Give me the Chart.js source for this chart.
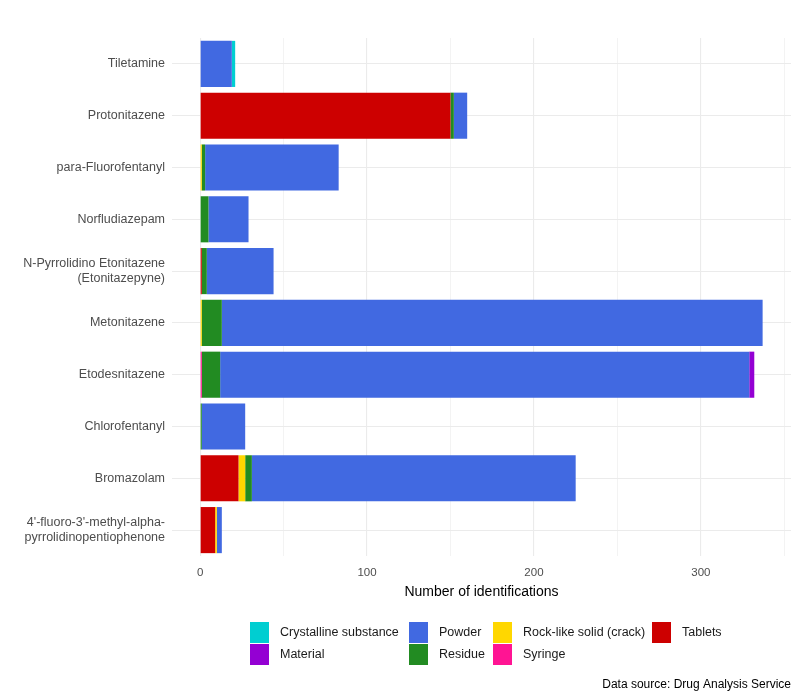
<!DOCTYPE html>
<html>
<head>
<meta charset="utf-8">
<script src="https://cdn.jsdelivr.net/npm/chart.js@4/dist/chart.umd.min.js"></script>
<style>
  html, body { margin: 0; padding: 0; background: #fff; }
  #wrap { width: 800px; height: 700px; }
</style>
</head>
<body>
<div id="wrap"><canvas id="chart" width="800" height="700"></canvas></div>
<script>
// categories, top to bottom
const drugs = [
  'Tiletamine',
  'Protonitazene',
  'para-Fluorofentanyl',
  'Norfludiazepam',
  ['N-Pyrrolidino Etonitazene', '(Etonitazepyne)'],
  'Metonitazene',
  'Etodesnitazene',
  'Chlorofentanyl',
  'Bromazolam',
  ["4'-fluoro-3'-methyl-alpha-", 'pyrrolidinopentiophenone']
];

// counts per form, same order as drugs
const tablets     = [0, 150, 0, 0, 1, 0, 0, 0, 23, 9];
const syringe     = [0, 0, 0, 0, 0, 0, 1, 0, 0, 0];
const rockLike    = [0, 0, 1, 0, 0, 1, 0, 0, 4, 1];
const residue     = [0, 2, 2, 5, 3, 12, 11, 1, 4, 0];
const powder      = [19, 8, 80, 24, 40, 324, 317, 26, 194, 3];
const material    = [0, 0, 0, 0, 0, 0, 3, 0, 0, 0];
const crystalline = [2, 0, 0, 0, 0, 0, 0, 0, 0, 0];

const xTicks = [0, 50, 100, 150, 200, 250, 300, 350];

const FONT = '"Liberation Sans", Arial, sans-serif';

// stacked left to right
const series = [
  { label: 'Tablets', data: tablets, color: '#CD0000' },
  { label: 'Syringe', data: syringe, color: '#FF1493' },
  { label: 'Rock-like solid (crack)', data: rockLike, color: '#FFD700' },
  { label: 'Residue', data: residue, color: '#228B22' },
  { label: 'Powder', data: powder, color: '#4169E1' },
  { label: 'Material', data: material, color: '#9400D3' },
  { label: 'Crystalline substance', data: crystalline, color: '#00CED1' }
];

// legend laid out column-wise like ggplot
const legendCols = [
  { x: 250, items: ['Crystalline substance', 'Material'] },
  { x: 409, items: ['Powder', 'Residue'] },
  { x: 493, items: ['Rock-like solid (crack)', 'Syringe'] },
  { x: 652, items: ['Tablets'] }
];

const ggLegend = {
  id: 'ggLegend',
  afterDraw(chart) {
    const ctx = chart.ctx;
    ctx.save();
    ctx.font = '12.5px ' + FONT;
    ctx.textBaseline = 'middle';
    ctx.textAlign = 'left';
    legendCols.forEach(col => {
      col.items.forEach((name, row) => {
        const s = series.find(d => d.label === name);
        const y = 622 + row * 22;
        ctx.fillStyle = s.color;
        ctx.fillRect(col.x, y, 19, 21);
        ctx.fillStyle = '#1a1a1a';
        ctx.fillText(name, col.x + 30, y + 11);
      });
    });
    ctx.font = '12px ' + FONT;
    ctx.textAlign = 'right';
    ctx.fillStyle = '#000';
    ctx.fillText('Data source: Drug Analysis Service', 791, 685);
    ctx.restore();
  }
};

new Chart(document.getElementById('chart'), {
  type: 'bar',
  data: {
    labels: drugs,
    datasets: series.map(s => ({
      label: s.label,
      data: s.data,
      backgroundColor: s.color,
      borderWidth: 0,
      barPercentage: 0.89,
      categoryPercentage: 1.0
    }))
  },
  options: {
    indexAxis: 'y',
    responsive: false,
    animation: false,
    layout: { padding: { top: 38, right: 9, bottom: 91, left: 0 } },
    plugins: {
      legend: { display: false },
      tooltip: { enabled: false }
    },
    scales: {
      x: {
        stacked: true,
        min: -16.85,
        max: 354,
        afterBuildTicks: axis => { axis.ticks = xTicks.map(v => ({ value: v })); },
        afterFit: scale => { scale.height = 53; },
        border: { display: false },
        grid: {
          color: '#ebebeb',
          lineWidth: c => (c.tick && c.tick.value % 100 === 0 ? 1.1 : 0.6),
          drawTicks: false
        },
        ticks: {
          padding: 10,
          color: '#4d4d4d',
          font: { family: FONT, size: 11.5 },
          callback: v => (v % 100 === 0 ? String(v) : '')
        },
        title: {
          display: true,
          text: 'Number of identifications',
          color: '#000',
          font: { family: FONT, size: 14 },
          padding: { top: 0, bottom: 8 }
        }
      },
      y: {
        stacked: true,
        afterFit: scale => { scale.width = 172; },
        border: { display: false },
        grid: { color: '#ebebeb', lineWidth: 1.1, offset: false, drawTicks: false },
        ticks: {
          padding: 7,
          color: '#4d4d4d',
          font: { family: FONT, size: 12.5 }
        }
      }
    }
  },
  plugins: [ggLegend]
});
</script>
</body>
</html>
